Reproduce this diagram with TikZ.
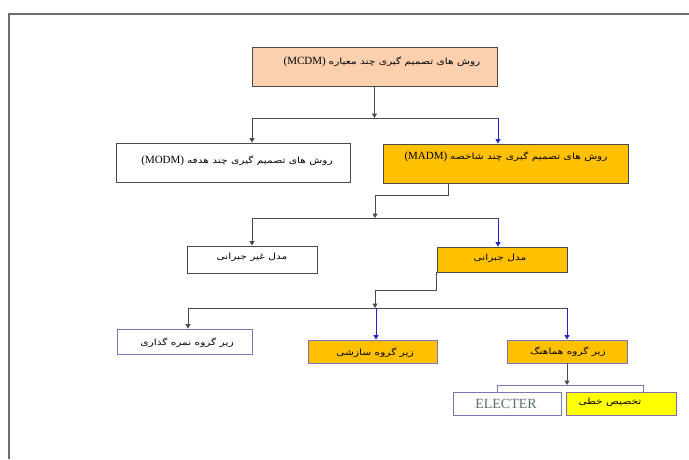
\documentclass[tikz,border=0pt]{standalone}
\usepackage{fontspec}
\usetikzlibrary{arrows.meta,calc}
\TeXXeTstate=1
\newfontfamily\arabicfont[Script=Arabic,FakeStretch=1.25]{DejaVu Sans}
\newfontfamily\latinserif{Liberation Serif}
\definecolor{peach}{HTML}{FAD0AE}
\definecolor{orangebox}{HTML}{FFC000}
\definecolor{yellowbox}{HTML}{FFFF00}
\definecolor{framegray}{HTML}{6E6E6E}
\definecolor{linegray}{HTML}{4A4A4A}
\definecolor{boxpurple}{HTML}{7C74B4}
\definecolor{arrblue}{HTML}{2626C8}
\definecolor{elgray}{HTML}{5E6E70}
\begin{document}
\begin{tikzpicture}[x=1pt,y=-1pt,
  box/.style={draw=linegray, line width=0.9pt, rectangle, inner sep=0pt},
  pbox/.style={draw=boxpurple, line width=0.9pt, rectangle, inner sep=0pt},
  txt/.style={inner sep=0pt, font=\fontsize{8.5}{9}\selectfont},
  conn/.style={draw=linegray, line width=1pt},
  arr/.style={conn, -{Triangle[length=4.5pt,width=5pt]}},
  arrb/.style={draw=arrblue, line width=1pt, -{Triangle[length=4.5pt,width=5pt]}},
]
\useasboundingbox (0,0) rectangle (689,459);
\fill[white] (0,0) rectangle (689,459);
% outer frame
\draw[framegray, line width=2.2pt] (9,459) -- (9,14) -- (689,14);

% boxes
\node[box, fill=peach, minimum width=245pt, minimum height=39pt] (mcdm) at (374.5,66.5) {};
\node[box, fill=white, minimum width=234pt, minimum height=39pt] (modm) at (233,162.5) {};
\node[box, fill=orangebox, minimum width=245pt, minimum height=39pt] (madm) at (505.5,163.5) {};
\node[box, fill=white, minimum width=130pt, minimum height=27pt] (gheir) at (252,259.5) {};
\node[box, fill=orangebox, minimum width=130pt, minimum height=25pt] (jobrani) at (502,259.5) {};
\node[pbox, fill=white, minimum width=135pt, minimum height=25pt] (nomreh) at (184.5,341.5) {};
\node[pbox, fill=orangebox, minimum width=129pt, minimum height=23pt] (sazeshi) at (372.5,351.5) {};
\node[pbox, fill=orangebox, minimum width=120pt, minimum height=23pt] (hamahang) at (567,351.5) {};
\node[pbox, fill=white, minimum width=108pt, minimum height=23pt] (electer) at (507,403.5) {};
\node[pbox, fill=yellowbox, minimum width=110pt, minimum height=23pt] (takhsis) at (621,403.5) {};

% texts
\node[txt] (mcdmT) at (382,62) {{\latinserif\fontsize{11}{12}\selectfont (MCDM)} {\arabicfont\beginR روش های تصمیم گیری چند معیاره\endR}};
\node[txt] (modmT) at (237,161) {{\latinserif\fontsize{11}{12}\selectfont (MODM)} {\arabicfont\beginR روش های تصمیم گیری چند هدفه\endR}};
\node[txt] (madmT) at (506,157) {{\latinserif\fontsize{11}{12}\selectfont (MADM)} {\arabicfont\beginR روش های تصمیم گیری چند شاخصه\endR}};
\node[txt] (gheirT) at (252,257) {\arabicfont\beginR مدل غیر جبرانی\endR};
\node[txt] (jobraniT) at (500,258) {\arabicfont\beginR مدل جبرانی\endR};
\node[txt] (nomrehT) at (187,343) {\arabicfont\beginR زیر گروه نمره گذاری\endR};
\node[txt] (sazeshiT) at (375,353) {\arabicfont\beginR زیر گروه سازشی\endR};
\node[txt] (hamahangT) at (568,352) {\arabicfont\beginR زیر گروه هماهنگ\endR};
\node[inner sep=0pt, text=elgray] (electerT) at (506,404) {\latinserif\fontsize{14}{15}\selectfont ELECTER};
\node[txt] (takhsisT) at (610,402) {\arabicfont\beginR تخصیص خطی\endR};

% bus coordinates
\coordinate (b1) at (374.5,118);
\coordinate (b1l) at (252,118);
\coordinate (b1r) at (498,118);
\coordinate (k2) at (448,195);
\coordinate (b2) at (375,218);
\coordinate (b2l) at (252,218);
\coordinate (b2r) at (498,218);
\coordinate (k3s) at (436,272);
\coordinate (k3) at (436,290);
\coordinate (b3) at (375,308);
\coordinate (b3l) at (188,308);
\coordinate (b3m) at (376,308);
\coordinate (b3r) at (567,308);
\coordinate (b4) at (567,385);
\coordinate (b4l) at (497,385);
\coordinate (b4r) at (643,385);

% level 1
\draw[arr] (mcdm.south) -- (b1);
\draw[conn] (b1l) -- (b1r);
\draw[arr] (b1l) -- (modm.north -| b1l);
\draw[arrb] (b1r) -- (madm.north -| b1r);
% level 2
\draw[arr] (madm.south -| k2) -- (k2) -| (b2);
\draw[conn] (b2l) -- (b2r);
\draw[arr] (b2l) -- (gheir.north);
\draw[arrb] (b2r) -- (jobrani.north -| b2r);
% level 3
\draw[arr] (k3s) -- (k3) -| (b3);
\draw[conn] (b3l) -- (b3r);
\draw[arr] (b3l) -- (nomreh.north -| b3l);
\draw[arrb] (b3m) -- (sazeshi.north -| b3m);
\draw[arrb] (b3r) -- (hamahang.north -| b3r);
% level 4
\draw[arr] (hamahang.south) -- (b4);
\draw[draw=boxpurple, line width=1pt] (electer.north -| b4l) -- (b4l) -- (b4r) -- (takhsis.north -| b4r);
\end{tikzpicture}
\end{document}
